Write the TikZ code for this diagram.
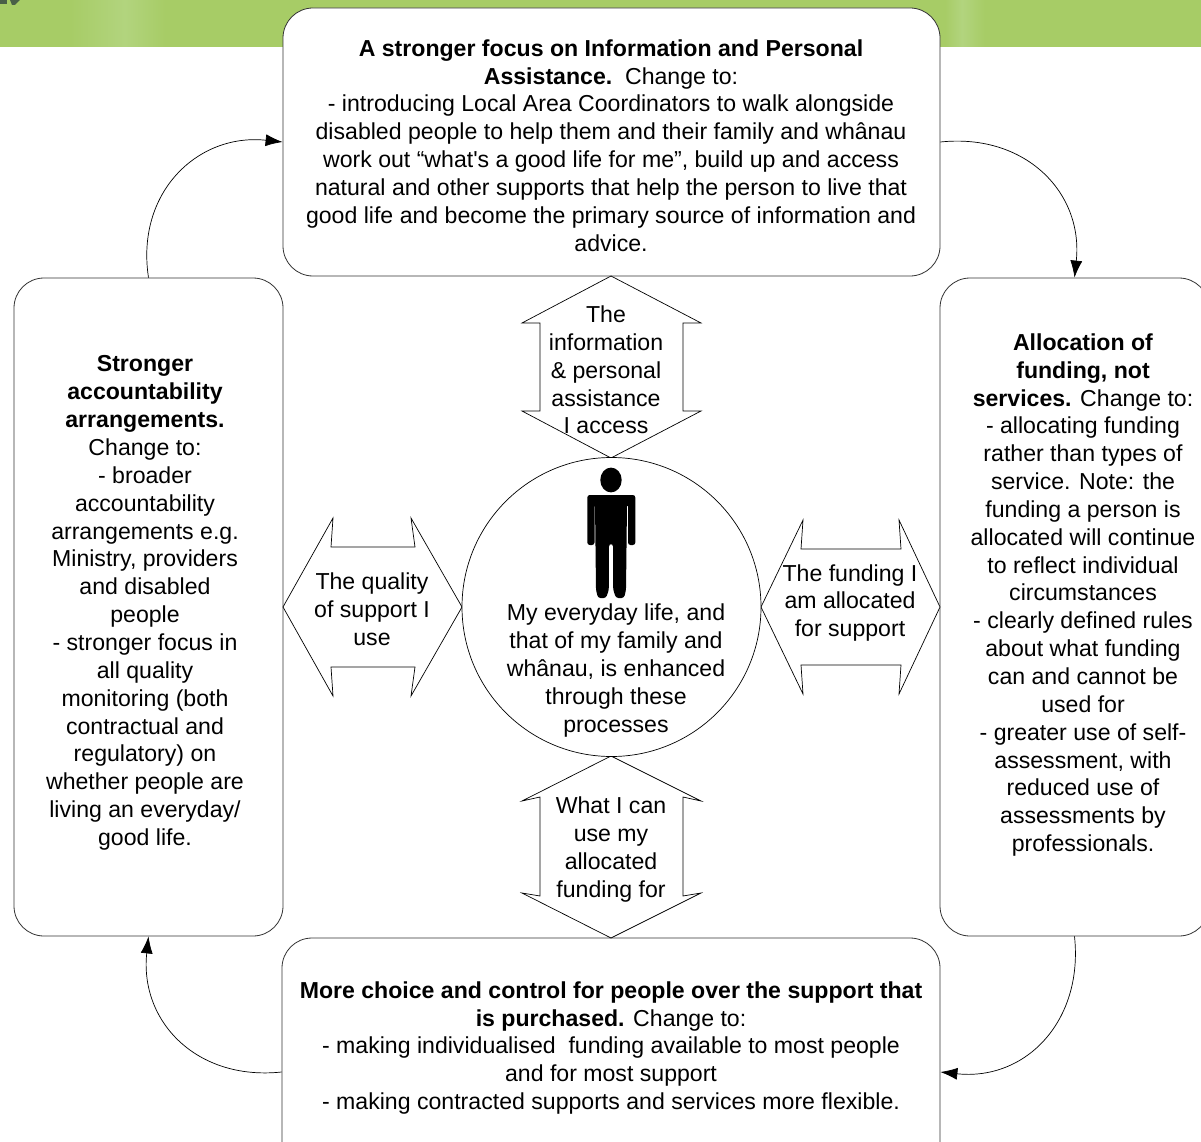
\documentclass[tikz,border=0pt]{standalone}
\usepackage{fontspec}
\setmainfont{Liberation Sans}[Ligatures=TeXOff]
\usetikzlibrary{arrows.meta}
\definecolor{bannergreen}{HTML}{A7CC66}
\definecolor{bannerlight}{HTML}{B2D47E}
\definecolor{logodark}{HTML}{4A5F48}
\tikzset{
  x=1pt,y=-1pt,
  box/.style={draw=black!80,line width=0.8pt,fill=white,rounded corners=30pt,inner sep=0pt},
  dblarrow/.style={draw=black,line width=0.7pt,fill=white,line join=miter},
  txt/.style={inner sep=0pt,align=center,font=\fontsize{23.1}{27.85}\selectfont},
  flow/.style={draw=black,line width=0.7pt,-{Latex[length=17pt,width=12pt]}},
}
\begin{document}
\begin{tikzpicture}
\useasboundingbox (0,0) rectangle (1201,1142);
\clip (0,0) rectangle (1201,1142);
% banner
\shade[left color=bannergreen,right color=bannerlight] (70,0) rectangle (125,47);
\shade[left color=bannerlight,right color=bannergreen] (125,0) rectangle (165,47);
\shade[left color=bannergreen,right color=bannerlight] (945,0) rectangle (962,47);
\shade[left color=bannerlight,right color=bannergreen] (962,0) rectangle (985,47);
\fill[bannergreen] (0,0) rectangle (70,47);
\fill[bannergreen] (165,0) rectangle (945,47);
\fill[bannergreen] (985,0) rectangle (1201,47);
\fill[logodark] (0,0) rectangle (7,4);
\fill[logodark] (10,0) -- (20,0) -- (15,5) -- (12,5) -- cycle;
% boxes
\node[box,minimum width=657pt,minimum height=268pt] (topbox) at (611.5,142) {};
\node[box,minimum width=269pt,minimum height=658pt] (leftbox) at (148.5,607) {};
\node[box,minimum width=269pt,minimum height=658pt] (rightbox) at (1074.5,607) {};
\node[box,minimum width=658pt,minimum height=268pt] (bottombox) at (611,1072) {};
% flow arcs
\draw[flow] (topbox.east) .. controls +(85,-9) and +(9,-85) .. (rightbox.north);
\draw[flow] (rightbox.south) .. controls +(9,85) and +(85,9) .. (bottombox.east);
\draw[flow] (bottombox.west) .. controls +(-85,9) and +(-9,85) .. (leftbox.south);
\draw[flow] (leftbox.north) .. controls +(-13,-85) and +(-85,-9) .. (topbox.west);
% double arrows
\draw[dblarrow] (611,276) -- (701,323) -- (683,323) -- (683,411) -- (701,411) -- (611,458) -- (522,411) -- (540,411) -- (540,323) -- (522,323) -- cycle;
\draw[dblarrow] (283,607) -- (333,518) -- (331,547) -- (415,547) -- (411,518) -- (462,607) -- (411,696) -- (415,667) -- (331,667) -- (333,696) -- cycle;
\draw[dblarrow] (761,607) -- (803,520) -- (801,549) -- (901,549) -- (899,520) -- (940,607) -- (899,694) -- (901,665) -- (801,665) -- (803,694) -- cycle;
\draw[dblarrow] (611,756) -- (701,801) -- (683,797) -- (683,896) -- (701,893) -- (611,938) -- (522,893) -- (540,896) -- (540,797) -- (522,801) -- cycle;
% centre circle
\node[draw=black,line width=0.7pt,fill=white,circle,minimum size=299pt,inner sep=0pt] (hub) at (611.5,607) {};
% person
\fill[black] (611,480) ellipse (10.7 and 12.4);
\fill[black,rounded corners=2.5pt] (587.3,495) -- (635.3,495) -- (635.3,545) -- (628,545) -- (628,504) -- (627,504) -- (626,590) -- (624,598) -- (616,598) -- (613.2,590) -- (613,544) -- (609,544) -- (608.8,590) -- (606,598) -- (598,598) -- (596,590) -- (595,504) -- (594.5,504) -- (594.5,545) -- (587.3,545) -- cycle;
% texts
\node[txt] (toptext) at (611,145.5) {\textbf{A stronger focus on Information and Personal}\\\textbf{Assistance.}\ \ Change to:\\- introducing Local Area Coordinators to walk alongside\\disabled people to help them and their family and whânau\\work out “what's a good life for me”, build up and access\\natural and other supports that help the person to live that\\good life and become the primary source of information and\\advice.};
\node[txt] (lefttext) at (145,603) {\textbf{Stronger}\\\textbf{accountability}\\\textbf{arrangements.}\\Change to:\\- broader\\accountability\\arrangements e.g.\\Ministry, providers\\and disabled\\people\\- stronger focus in\\all quality\\monitoring (both\\contractual and\\regulatory) on\\whether people are\\living an everyday/\\good life.};
\node[txt] (righttext) at (1083,595) {\textbf{Allocation of}\\\textbf{funding, not}\\\textbf{services.} Change to:\\- allocating funding\\rather than types of\\service. Note: the\\funding a person is\\allocated will continue\\to reflect individual\\circumstances\\- clearly defined rules\\about what funding\\can and cannot be\\used for\\- greater use of self-\\assessment, with\\reduced use of\\assessments by\\professionals.};
\node[txt] (bottomtext) at (611,1048) {\textbf{More choice and control for people over the support that}\\\textbf{is purchased.} Change to:\\- making individualised\ \ funding available to most people\\and for most support\\- making contracted supports and services more flexible.};
\node[txt] (uptext) at (606,370) {The\\information\\\&\ personal\\assistance\\I access};
\node[txt] (qualitytext) at (372,609) {The quality\\of support I\\use};
\node[txt] (fundingtext) at (850,603) {The funding I\\am allocated\\for support};
\node[txt] (hubtext) at (616,670.5) {My everyday life, and\\that of my family and\\whânau, is enhanced\\through these\\processes};
\node[txt] (usetext) at (611,849.5) {What I can\\use my\\allocated\\funding for};
\end{tikzpicture}
\end{document}
